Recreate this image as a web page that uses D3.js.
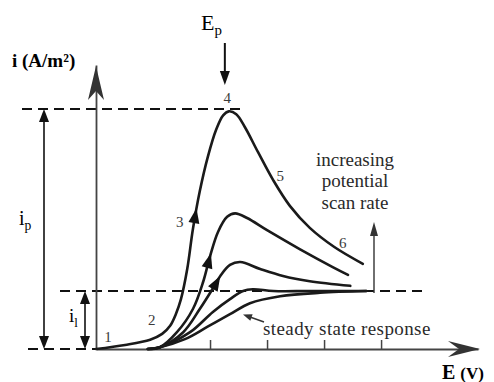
<!DOCTYPE html>
<html>
<head>
<style>
    body { margin: 0; background: #fff; }
    svg { display: block; background: #fff; }
    text { font-family: "Liberation Serif", "Times New Roman", serif; }
</style>
</head>
<body>
<div id="chart"></div>
<script src="https://cdnjs.cloudflare.com/ajax/libs/d3/7.8.5/d3.min.js"></script>
<script>
(function() {
    // E (V), i (A/m2)
    var E_ticks = [0.2, 0.3, 0.4, 0.5];
    var i_peak = 4.14, i_lim = 1;
    var E_peak = 0.233;

    var curveA = [[0,0],[0.051,0.07],[0.095,0.16],[0.116,0.26],[0.130,0.40],[0.140,0.60],[0.149,0.86],
        [0.160,1.38],[0.170,2.07],[0.182,2.72],[0.196,3.31],[0.211,3.79],[0.223,4.03],[0.233,4.10],
        [0.246,4.05],[0.261,3.83],[0.284,3.40],[0.311,2.91],[0.340,2.47],[0.375,2.09],[0.418,1.76],[0.468,1.47]];
    var curveB = [[0.091,0],[0.112,0.03],[0.142,0.29],[0.170,0.69],[0.188,1.16],[0.200,1.60],[0.214,2.02],
        [0.230,2.28],[0.244,2.34],[0.265,2.26],[0.300,2.05],[0.358,1.72],[0.416,1.41],[0.442,1.28]];
    var curveC = [[0.091,0],[0.112,0.03],[0.153,0.29],[0.182,0.69],[0.204,1.03],[0.218,1.26],[0.235,1.45],
        [0.253,1.50],[0.288,1.38],[0.328,1.26],[0.375,1.17],[0.446,1.09]];
    var curveD = [[0.091,0],[0.112,0.03],[0.165,0.29],[0.205,0.64],[0.235,0.86],[0.258,1.00],[0.275,1.03],
        [0.311,1.00],[0.375,1.00],[0.474,1.00]];
    var curveE = [[0.091,0],[0.112,0.03],[0.156,0.17],[0.195,0.38],[0.235,0.60],[0.270,0.79],[0.323,0.91],
        [0.393,0.97],[0.474,1.00]];
    var curves = [curveA, curveB, curveC, curveD, curveE];
    var arrowE = [0.174, 0.198, 0.211]; // arrows on first three curves

    // number labels along the big curve: [label, E, i]
    var numLabels = [["1",0.021,0.12],["2",0.098,0.42],["3",0.147,2.1],["4",0.23,4.25],["5",0.323,2.89],["6",0.433,1.74]];

    var width = 494, height = 382;

    var svg = d3.select("#chart")
        .append("svg")
        .attr("width", width)
        .attr("height", height);

    var x = d3.scaleLinear().domain([0, 0.67]).range([96, 478]);
    var y = d3.scaleLinear().domain([0, 4.9]).range([349, 65]);

    function head(g, tx, ty, ang, len, hw, fill) {
        var c = Math.cos(ang), s = Math.sin(ang);
        var bx = tx - c * len, by = ty - s * len;
        g.append("path")
            .attr("d", "M" + tx + "," + ty + "L" + (bx - s * hw) + "," + (by + c * hw) +
                "L" + (bx + s * hw) + "," + (by - c * hw) + "Z")
            .attr("fill", fill || "#111");
    }

    // dashed reference levels
    var dash = svg.append("g")
        .attr("stroke", "#111").attr("stroke-width", 2).attr("stroke-dasharray", "10,6").attr("fill", "none");
    dash.append("line").attr("x1", 22).attr("x2", 240).attr("y1", y(i_peak)).attr("y2", y(i_peak));
    dash.append("line").attr("x1", 60).attr("x2", 426).attr("y1", y(i_lim)).attr("y2", y(i_lim));
    dash.append("line").attr("x1", 28).attr("x2", x(0)).attr("y1", y(0)).attr("y2", y(0));

    // axes
    var xAxis = svg.append("g")
        .attr("transform", "translate(0," + y(0) + ")")
        .call(d3.axisBottom(x).tickValues(E_ticks).tickSize(-9).tickSizeOuter(0).tickFormat(""));
    var yAxis = svg.append("g")
        .attr("transform", "translate(" + x(0) + ",0)")
        .call(d3.axisLeft(y).tickValues([]).tickSizeOuter(0));
    svg.selectAll(".domain").attr("stroke", "#444").attr("stroke-width", 1.8);
    xAxis.selectAll(".tick line").attr("stroke", "#444").attr("stroke-width", 1.5);

    // barbed arrow tips on the axes
    var x1 = x.range()[1], y0 = y(0), yt = y.range()[1];
    svg.append("path")
        .attr("d", "M" + (x1 + 2) + "," + y0 + "L" + (x1 - 30) + "," + (y0 - 8) + "L" + (x1 - 19) + "," + y0 +
            "L" + (x1 - 30) + "," + (y0 + 8) + "Z")
        .attr("fill", "#333");
    svg.append("path")
        .attr("d", "M" + x(0) + "," + (yt + 1) + "L" + (x(0) - 8) + "," + (yt + 35) + "L" + x(0) + "," + (yt + 26) +
            "L" + (x(0) + 8) + "," + (yt + 35) + "Z")
        .attr("fill", "#333");

    // curves
    var line = d3.line()
        .x(function(d) { return x(d[0]); })
        .y(function(d) { return y(d[1]); })
        .curve(d3.curveCatmullRom.alpha(0.5));

    var paths = svg.append("g").selectAll("path")
        .data(curves)
        .enter().append("path")
        .attr("d", line)
        .attr("fill", "none")
        .attr("stroke", "#1a1a1a")
        .attr("stroke-width", 2.6)
        .attr("stroke-linecap", "round");

    // direction arrows on the rising branches
    paths.each(function(d, k) {
        if (k >= arrowE.length) return;
        var node = this, total = node.getTotalLength(), tx = x(arrowE[k]), best = 0;
        for (var L = 0; L < total; L += 0.5) {
            if (node.getPointAtLength(L).x >= tx) { best = L; break; }
        }
        var p0 = node.getPointAtLength(best - 2), p1 = node.getPointAtLength(best + 2);
        var ang = Math.atan2(p1.y - p0.y, p1.x - p0.x);
        var pt = node.getPointAtLength(best + 7);
        head(svg, pt.x, pt.y, ang, 15, 5.5, "#111");
    });

    // i_p and i_l double arrows
    var dbl = svg.append("g");
    function dblArrow(xp, ya, yb) {
        dbl.append("line").attr("x1", xp).attr("x2", xp).attr("y1", ya + 8).attr("y2", yb - 8)
            .attr("stroke", "#111").attr("stroke-width", 1.6);
        head(dbl, xp, ya, -Math.PI / 2, 13, 5, "#111");
        head(dbl, xp, yb, Math.PI / 2, 13, 5, "#111");
    }
    dblArrow(44, y(i_peak), y(0));
    dblArrow(85, y(i_lim), y(0));

    // E_p arrow
    svg.append("line").attr("x1", x(E_peak) - 4).attr("x2", x(E_peak) - 4).attr("y1", 43).attr("y2", 76)
        .attr("stroke", "#111").attr("stroke-width", 2);
    head(svg, x(E_peak) - 4, 85, Math.PI / 2, 14, 5, "#111");

    // increasing scan rate arrow
    svg.append("line").attr("x1", 374).attr("x2", 374).attr("y1", y(i_lim) + 2).attr("y2", 232)
        .attr("stroke", "#333").attr("stroke-width", 1.4);
    head(svg, 374, 222, -Math.PI / 2, 14, 4, "#333");

    // steady state pointer
    svg.append("line").attr("x1", 264).attr("x2", 250).attr("y1", 322).attr("y2", 317)
        .attr("stroke", "#333").attr("stroke-width", 1.4);
    head(svg, 243, 314.5, Math.atan2(-5, -14), 9, 3.5, "#333");

    // number labels
    svg.append("g").selectAll("text")
        .data(numLabels)
        .enter().append("text")
        .attr("x", function(d) { return x(d[1]); })
        .attr("y", function(d) { return y(d[2]); })
        .attr("text-anchor", "middle")
        .attr("font-size", 15)
        .attr("fill", "#3a3a3a")
        .text(function(d) { return d[0]; });

    var note = svg.append("text")
        .attr("text-anchor", "middle")
        .attr("font-size", 19)
        .attr("fill", "#2a2a2a");
    note.append("tspan").attr("x", 355).attr("y", 166).text("increasing");
    note.append("tspan").attr("x", 355).attr("y", 187).text("potential");
    note.append("tspan").attr("x", 355).attr("y", 209).text("scan rate");

    svg.append("text")
        .attr("x", 263).attr("y", 335)
        .attr("font-size", 19)
        .attr("letter-spacing", 0.4)
        .attr("fill", "#2a2a2a")
        .text("steady state response");

    // axis titles and symbols
    svg.append("text")
        .attr("x", 12).attr("y", 67)
        .attr("font-size", 19).attr("font-weight", "bold")
        .text("i (A/m\u00b2)");
    var ex = svg.append("text")
        .attr("x", 442).attr("y", 379)
        .attr("font-size", 20).attr("font-weight", "bold");
    ex.append("tspan").text("E ");
    ex.append("tspan").attr("font-size", 17).text("(V)");

    function subLabel(tx, ty, main, sub, fs) {
        var t = svg.append("text").attr("x", tx).attr("y", ty).attr("font-size", fs);
        t.append("tspan").text(main);
        t.append("tspan").attr("font-size", fs * 0.68).attr("dy", 5).text(sub);
    }
    subLabel(201, 30, "E", "p", 22);
    subLabel(19, 225, "i", "p", 20);
    subLabel(69, 322, "i", "l", 19);
})();
</script>
</body>
</html>
